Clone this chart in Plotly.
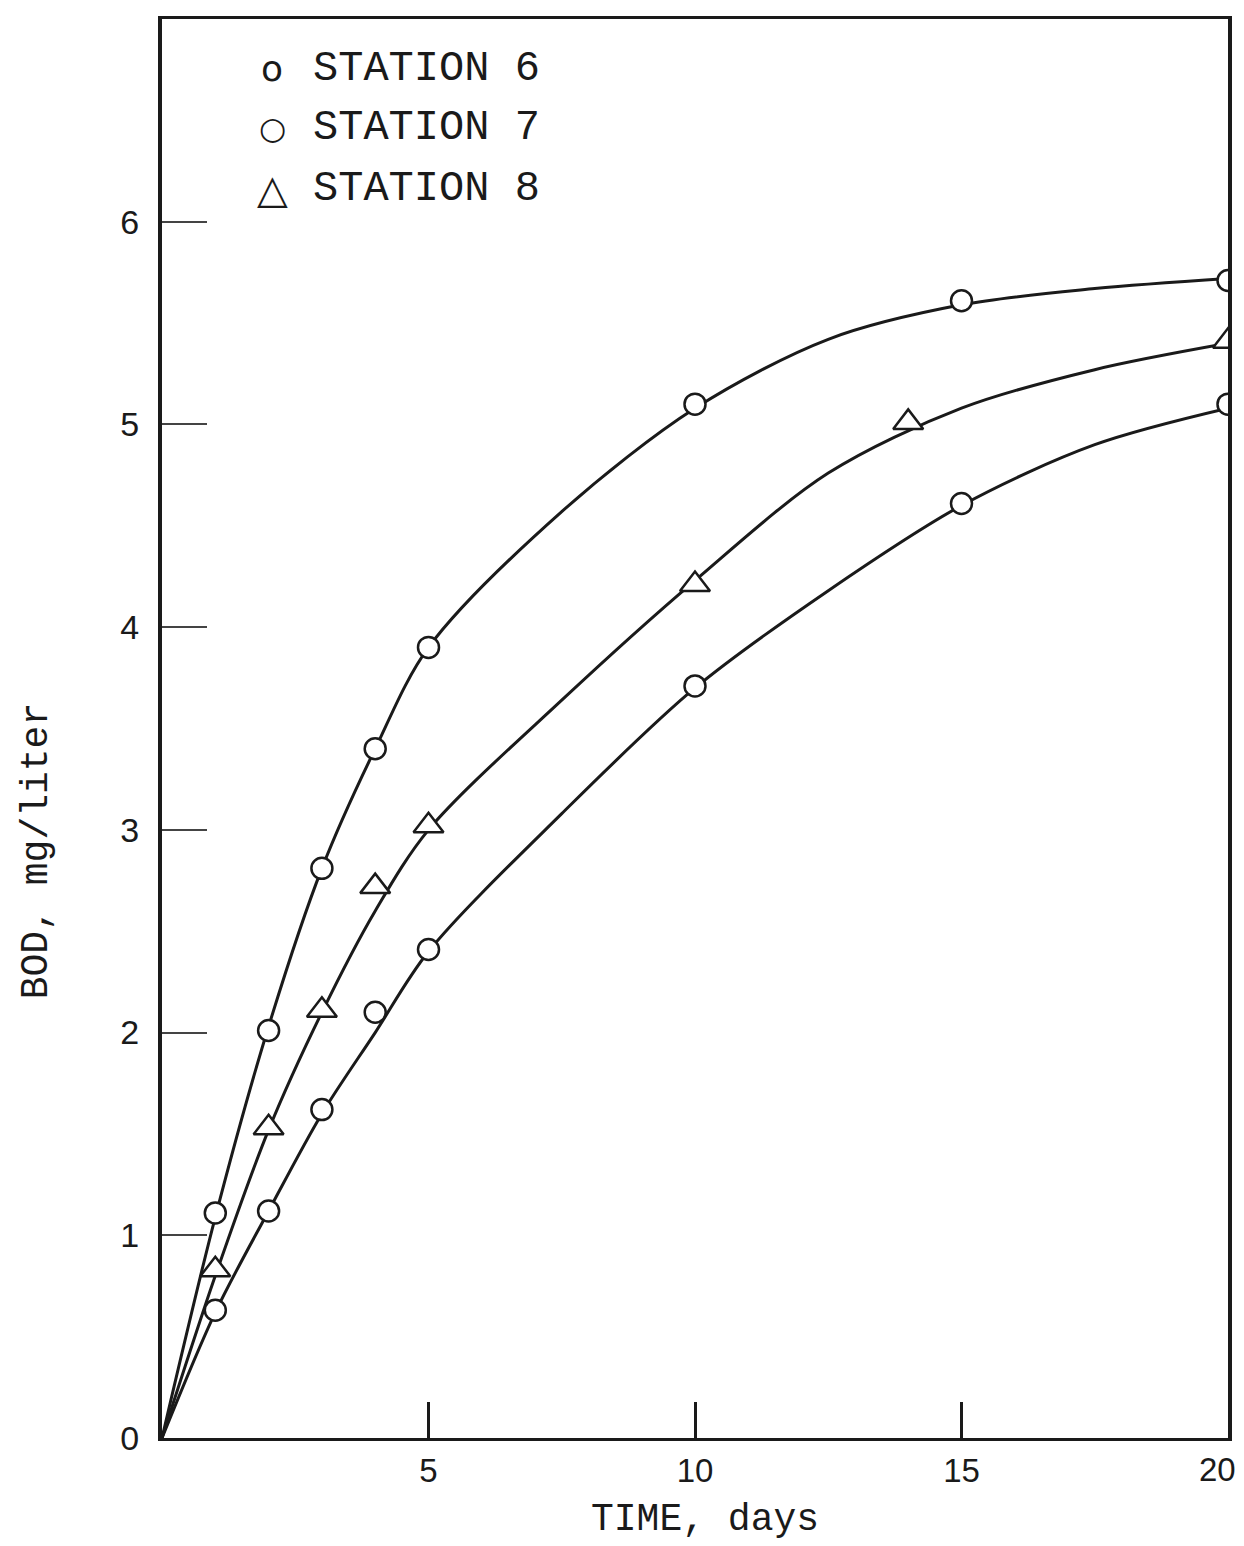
import plotly.graph_objects as go

days_6 = [1, 2, 3, 4, 5, 10, 15, 20]
bod_6 = [1.11, 2.01, 2.81, 3.40, 3.90, 5.10, 5.61, 5.71]

days_7 = [1, 2, 3, 4, 5, 10, 15, 20]
bod_7 = [0.63, 1.12, 1.62, 2.10, 2.41, 3.71, 4.61, 5.10]

days_8 = [1, 2, 3, 4, 5, 10, 14, 20]
bod_8 = [0.83, 1.53, 2.11, 2.72, 3.02, 4.21, 5.01, 5.41]

# Fitted curves as drawn in the picture
curve_days = [0, 1, 2, 3, 4, 5, 7.5, 10, 12.5, 15, 17.5, 20]
curve_6 = [0, 1.09, 2.03, 2.81, 3.40, 3.90, 4.57, 5.08, 5.42, 5.59, 5.67, 5.72]
curve_7 = [0, 0.62, 1.12, 1.60, 2.00, 2.40, 3.08, 3.70, 4.18, 4.60, 4.90, 5.08]
curve_8 = [0, 0.80, 1.52, 2.10, 2.60, 3.00, 3.64, 4.23, 4.76, 5.08, 5.27, 5.40]

legend_labels = ["STATION 6", "STATION 7", "STATION 8"]

x_ticks = [5, 10, 15, 20]
x_tick_labels = ["5", "10", "15", "20"]
y_ticks = [0, 1, 2, 3, 4, 5, 6]

INK = "#1a1a1a"
FONT = "Liberation Sans"
LETTER_FONT = "Liberation Mono"

fig = go.Figure()

for cy in [curve_6, curve_7, curve_8]:
    fig.add_trace(go.Scatter(x=curve_days, y=cy, mode="lines",
                             line=dict(color=INK, width=3, shape="spline", smoothing=0.9),
                             showlegend=False, hoverinfo="skip"))

circle = dict(symbol="circle", size=21, color="white", line=dict(color=INK, width=2.5))
tri = dict(symbol="triangle-up", size=26, color="white", line=dict(color=INK, width=2.5))

fig.add_trace(go.Scatter(x=days_6, y=bod_6, mode="markers", marker=circle,
                         name=legend_labels[0], showlegend=False))
fig.add_trace(go.Scatter(x=days_7, y=bod_7, mode="markers", marker=circle,
                         name=legend_labels[1], showlegend=False))
fig.add_trace(go.Scatter(x=days_8, y=bod_8, mode="markers", marker=tri,
                         name=legend_labels[2], showlegend=False))

# page is offset by the default 8px body margin
OFF = 8
W, H = 1244 - OFF, 1546 - OFF
L, R, T, B = 162 - OFF, 16, 16 - OFF, 108
pw, ph = W - L - R, H - T - B

def px_x(p):
    return (p - OFF - L) / pw

def px_y(p):
    return (H - B - (p - OFF)) / ph

annotations = []
symbols = [("o", 36), ("○", 31), ("△", 40)]
rows_y = [66, 125, 186]
for (sym, fs), lab, ry in zip(symbols, legend_labels, rows_y):
    annotations.append(dict(x=px_x(272), y=px_y(ry), xref="paper", yref="paper",
                            text=sym, showarrow=False, xanchor="center", yanchor="middle",
                            font=dict(family="DejaVu Sans", size=fs, color=INK)))
    annotations.append(dict(x=px_x(311), y=px_y(ry), xref="paper", yref="paper",
                            text=lab, showarrow=False, xanchor="left", yanchor="middle",
                            font=dict(family=LETTER_FONT, size=42, color=INK)))

# last x tick label sits just inside the right border, as in the original
annotations.append(dict(x=x_ticks[-1], y=0, xref="x", yref="y",
                        text=x_tick_labels[-1], showarrow=False,
                        xanchor="right", yanchor="top", xshift=10, yshift=-11,
                        font=dict(family=FONT, size=33, color=INK)))

annotations.append(dict(x=px_x(705), y=px_y(1520), xref="paper", yref="paper",
                        text="TIME, days", showarrow=False, xanchor="center", yanchor="middle",
                        font=dict(family=LETTER_FONT, size=38, color=INK)))
annotations.append(dict(x=px_x(36), y=px_y(850), xref="paper", yref="paper",
                        text="BOD, mg/liter", showarrow=False, xanchor="center", yanchor="middle",
                        textangle=-90, font=dict(family=LETTER_FONT, size=38, color=INK)))

fig.update_layout(
    width=W, height=H,
    margin=dict(l=L, r=R, t=T, b=B),
    paper_bgcolor="white", plot_bgcolor="white",
    showlegend=False,
    annotations=annotations,
    xaxis=dict(range=[0, 20], tickvals=x_ticks,
               ticktext=x_tick_labels[:-1] + [""],
               ticks="inside", ticklen=36, tickwidth=3, tickcolor=INK,
               showline=True, linecolor=INK, linewidth=2.5, mirror=True,
               showgrid=False, zeroline=False, ticklabelstandoff=2,
               tickfont=dict(family=FONT, size=33, color=INK)),
    yaxis=dict(range=[0, 7.0], tickvals=y_ticks, ticktext=[str(v) for v in y_ticks],
               ticks="inside", ticklen=45, tickwidth=2, tickcolor="#444444",
               showline=True, linecolor=INK, linewidth=4, mirror=True,
               showgrid=False, zeroline=False, ticklabelstandoff=12,
               tickfont=dict(family=FONT, size=34, color=INK)),
)

fig.write_html("out.html")
